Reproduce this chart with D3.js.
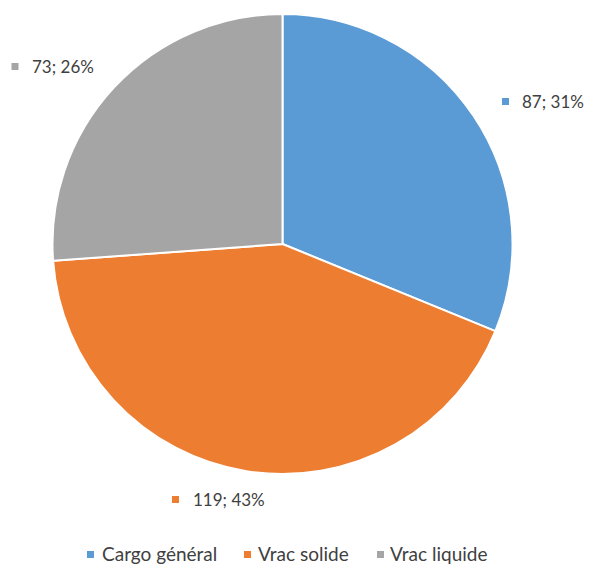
<!DOCTYPE html>
<html>
<head>
<meta charset="utf-8">
<script src="https://cdn.jsdelivr.net/npm/d3@7"></script>
<style>
  html, body { margin: 0; padding: 0; background: #fff; }
  svg { display: block; }
  text { font-family: Lato, "Open Sans", sans-serif; fill: #404040; }
</style>
</head>
<body>
<svg id="chart" width="592" height="566"></svg>
<script>
// Trafic par type de marchandise
const categories = ["Cargo général", "Vrac solide", "Vrac liquide"];
const values = [87, 119, 73];
const colors = ["#5B9BD5", "#ED7D31", "#A5A5A5"];

const cx = 282.5, cy = 244, R = 230;

const svg = d3.select("#chart");
const total = d3.sum(values);
const data = categories.map((c, i) => ({ cat: c, value: values[i], color: colors[i] }));

const pie = d3.pie().sort(null).value(d => d.value);
const arcs = pie(data);
const arc = d3.arc().innerRadius(0).outerRadius(R);

const g = svg.append("g").attr("transform", `translate(${cx},${cy})`);

g.selectAll("path.slice")
  .data(arcs)
  .join("path")
  .attr("class", "slice")
  .attr("d", arc)
  .attr("fill", d => d.data.color)
  .attr("stroke", "#fff")
  .attr("stroke-width", 2)
  .attr("stroke-linejoin", "round");

// Data labels outside the pie, each with its colour key square
const labelPos = [
  { mx: 502, tx: 522, y: 108 },
  { mx: 172, tx: 193, y: 506 },
  { mx: 11.5, tx: 32, y: 73 }
];
const labels = svg.append("g");
arcs.forEach((a, i) => {
  const pct = Math.round(a.data.value / total * 100);
  const p = labelPos[i];
  labels.append("rect")
    .attr("x", p.mx).attr("y", p.y - 10).attr("width", 7).attr("height", 7)
    .attr("fill", a.data.color);
  labels.append("text")
    .attr("x", p.tx).attr("y", p.y)
    .attr("font-size", 17)
    .text(`${a.data.value}; ${pct}%`);
});

// Legend along the bottom
const legendPos = [
  { mx: 87, tx: 102 },
  { mx: 244, tx: 258 },
  { mx: 377, tx: 390 }
];
const legendY = 561;
const legend = svg.append("g");
data.forEach((d, i) => {
  const p = legendPos[i];
  legend.append("rect")
    .attr("x", p.mx).attr("y", legendY - 10).attr("width", 7).attr("height", 7)
    .attr("fill", d.color);
  legend.append("text")
    .attr("x", p.tx).attr("y", legendY)
    .attr("font-size", 19)
    .text(d.cat);
});
</script>
</body>
</html>
